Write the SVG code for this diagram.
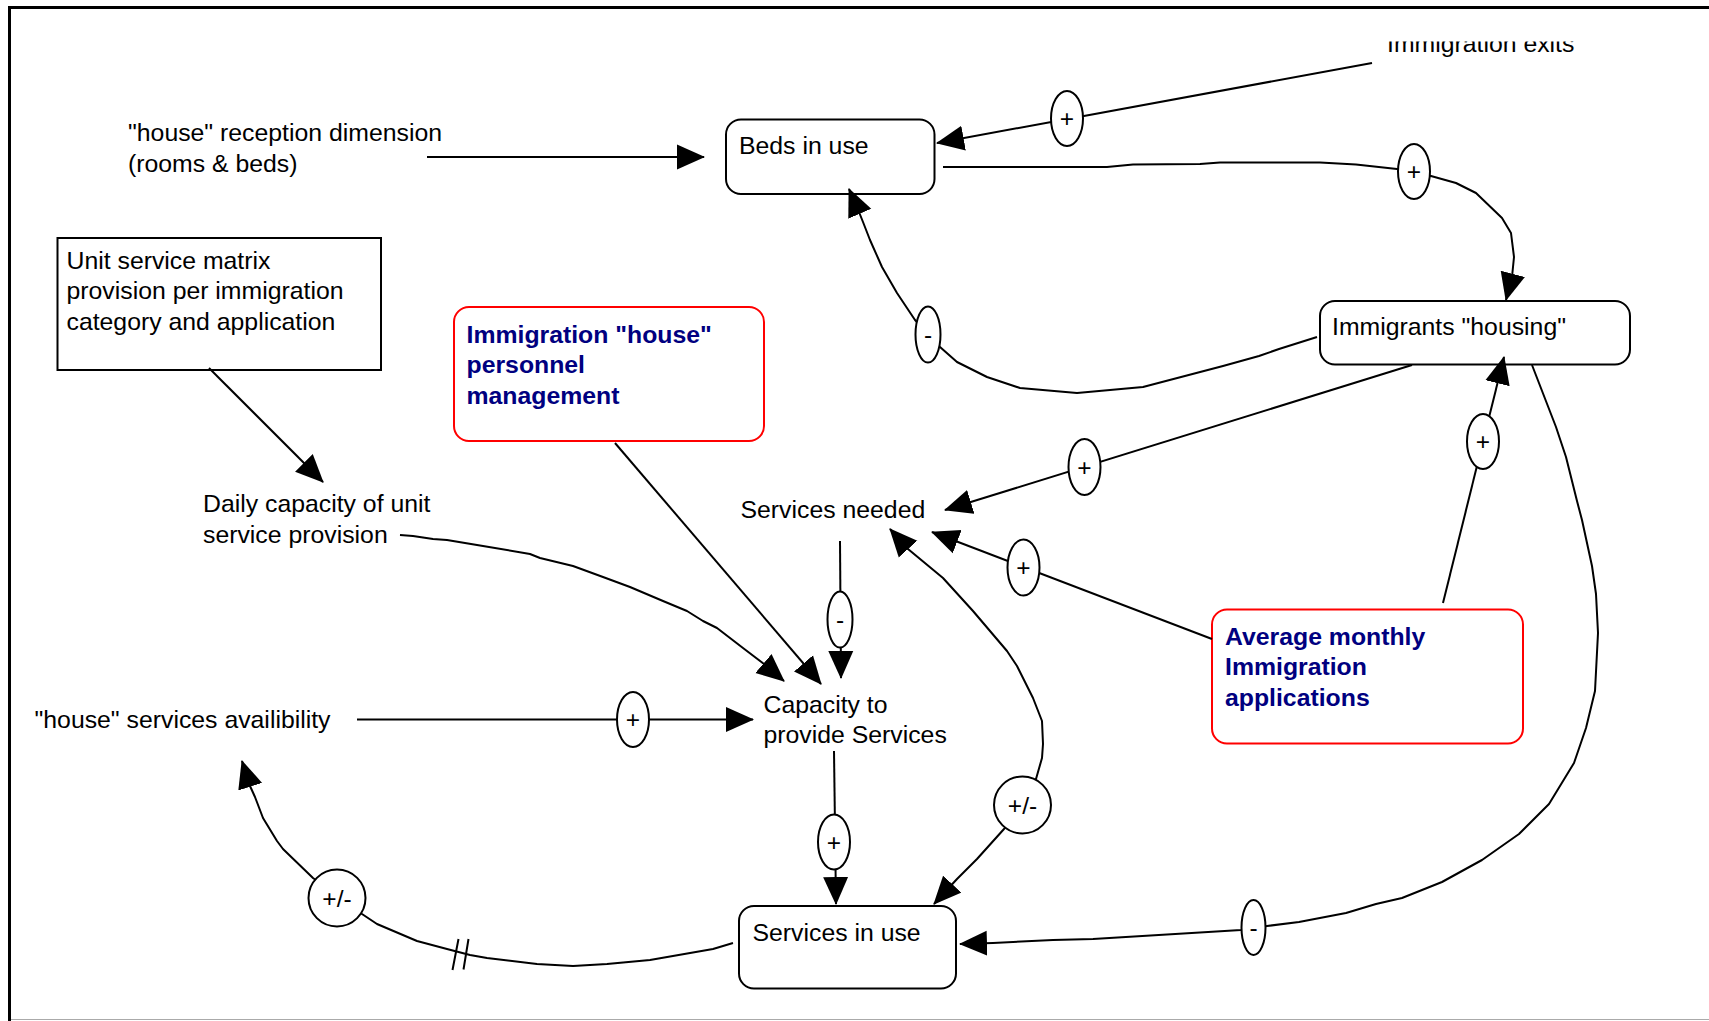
<svg xmlns="http://www.w3.org/2000/svg" width="1709" height="1021" viewBox="0 0 1709 1021">
  <style>
    text { font-family: "Liberation Sans", Arial, sans-serif; font-size: 24.8px; fill: #000; }
    .bold { font-weight: bold; fill: #000080; }
    .box { fill: #fff; stroke: #000; stroke-width: 2; }
    .redbox { fill: #fff; stroke: #ff0000; stroke-width: 2; }
    .link { fill: none; stroke: #000; stroke-width: 2; stroke-linejoin: round; }
    .arrow { marker-end: url(#head); }
    .sign { fill: #fff; stroke: #000; stroke-width: 2; }
    .lbl { text-anchor: middle; font-size: 24.5px; }
  </style>
  <defs>
    <marker id="head" markerUnits="userSpaceOnUse" markerWidth="28" markerHeight="26" refX="27" refY="13" orient="auto-start-reverse">
      <path d="M0,0.5 L28,13 L0,25.5 Z" fill="#000"/>
    </marker>
    <clipPath id="topclip">
      <rect x="0" y="41.5" width="1709" height="40"/>
    </clipPath>
  </defs>

  <rect x="0" y="0" width="1709" height="1021" fill="#fff"/>

  <!-- page frame -->
  <g id="frame">
    <path d="M9.5,1021 L9.5,7.5 L1709,7.5" fill="none" stroke="#000" stroke-width="3"/>
    <line x1="11" y1="1019.5" x2="1709" y2="1019.5" stroke="#aaa" stroke-width="1"/>
  </g>

  <!-- variables -->
  <g id="node-reception">
    <text x="128" y="141">"house" reception dimension</text>
    <text x="128" y="172">(rooms &amp; beds)</text>
  </g>

  <g id="node-beds">
    <rect class="box" x="726" y="119.5" width="208.5" height="74.5" rx="15"/>
    <text x="739" y="154">Beds in use</text>
  </g>

  <g id="node-exits" clip-path="url(#topclip)">
    <text x="1387" y="51.5">Immigration exits</text>
  </g>

  <g id="node-housing">
    <rect class="box" x="1320" y="301" width="310" height="63.5" rx="15"/>
    <text x="1332" y="335">Immigrants "housing"</text>
  </g>

  <g id="node-matrix">
    <rect class="box" x="57.5" y="238" width="323.5" height="132"/>
    <text x="66.5" y="268.5">Unit service matrix</text>
    <text x="66.5" y="299">provision per immigration</text>
    <text x="66.5" y="329.5">category and application</text>
  </g>

  <g id="node-personnel">
    <rect class="redbox" x="454" y="307" width="310" height="134" rx="15"/>
    <text class="bold" x="466.5" y="342.5">Immigration "house"</text>
    <text class="bold" x="466.5" y="373">personnel</text>
    <text class="bold" x="466.5" y="403.5">management</text>
  </g>

  <g id="node-daily">
    <text x="203" y="512">Daily capacity of unit</text>
    <text x="203" y="543">service provision</text>
  </g>

  <g id="node-needed">
    <text x="740.5" y="517.5">Services needed</text>
  </g>

  <g id="node-average">
    <rect class="redbox" x="1212" y="609.5" width="311" height="134" rx="15"/>
    <text class="bold" x="1225" y="644.5">Average monthly</text>
    <text class="bold" x="1225" y="675">Immigration</text>
    <text class="bold" x="1225" y="705.5">applications</text>
  </g>

  <g id="node-availability">
    <text x="34.5" y="728">"house" services availibility</text>
  </g>

  <g id="node-capacity">
    <text x="763.5" y="713">Capacity to</text>
    <text x="763.5" y="743">provide Services</text>
  </g>

  <g id="node-inuse">
    <rect class="box" x="739" y="906" width="217" height="82.5" rx="15"/>
    <text x="752.5" y="940.5">Services in use</text>
  </g>

  <!-- causal links with polarity signs -->
  <g id="connectors">
    <path class="link arrow" d="M427,157 L704,157"/>

    <path class="link arrow" d="M1372,63 L937,143"/>
    <ellipse class="sign" cx="1067" cy="118.5" rx="16" ry="27.5"/>
    <text class="lbl" x="1067" y="127">+</text>

    <path class="link arrow" d="M943,167 L1107,167 L1133,164.5 L1200,164 L1220,162.5 L1320,162.5 L1356,164.5 L1397,169 L1431,176 L1456,183 L1476,193 L1502,218 L1511,233 L1514,257 L1512,277 L1506,300"/>
    <ellipse class="sign" cx="1414" cy="171.5" rx="16" ry="27.5"/>
    <text class="lbl" x="1414" y="180">+</text>

    <path class="link arrow" d="M1317,337 L1279,349 L1259,356 L1223,366 L1143,387 L1077,393 L1020,388 L987,377 L957,362 L940,347 L928,334 L915,320 L897,293 L882,267 L870,240 L863,222 L859,212 L849,189"/>
    <ellipse class="sign" cx="928" cy="334.5" rx="12.5" ry="28"/>
    <text class="lbl" x="928" y="343">-</text>

    <path class="link arrow" d="M1412,365 L945,510"/>
    <ellipse class="sign" cx="1084.5" cy="467" rx="16" ry="28"/>
    <text class="lbl" x="1084.5" y="475.5">+</text>

    <path class="link arrow" d="M209,368 L323,482"/>

    <path class="link arrow" d="M400,535 L413,536 L433,539 L447,540 L483,546 L530,554 L540,558 L573,566 L603,577 L630,587 L663,601 L687,611 L703,621 L717,628 L743,648 L764,664 L784,681"/>

    <path class="link arrow" d="M615,443 L821,684"/>

    <path class="link arrow" d="M840,541 L841,678"/>
    <ellipse class="sign" cx="840" cy="619.5" rx="12.5" ry="28"/>
    <text class="lbl" x="840" y="628">-</text>

    <path class="link arrow" d="M357,719.5 L753,719.5"/>
    <ellipse class="sign" cx="633" cy="719.5" rx="16" ry="27.5"/>
    <text class="lbl" x="633" y="728">+</text>

    <path class="link arrow" d="M834,751 L836,904"/>
    <ellipse class="sign" cx="834" cy="842" rx="16" ry="27.5"/>
    <text class="lbl" x="834" y="850.5">+</text>

    <path class="link arrow" d="M733,943 L713,949 L650,960 L607,964 L573,966 L537,964 L487,958 L470,955 L447,949 L417,941 L377,924 L362,914 L313,878 L283,849 L277,841 L263,818 L255,797 L250,786 L242,761"/>
    <path class="link" d="M458.5,939 L452.5,970 M468.5,939 L463.5,969.5"/>
    <circle class="sign" cx="337" cy="898" r="28.5"/>
    <text class="lbl" x="337" y="906.5">+/-</text>

    <path class="link arrow" style="marker-start:url(#head)" d="M934,904 L957,879 L977,859 L1004,829 L1023,805 L1036,779 L1042,758 L1043,744 L1042,721 L1033,698 L1017,666 L1007,651 L973,611 L943,578 L908,549 L890,529"/>
    <circle class="sign" cx="1022.5" cy="805" r="28.5"/>
    <text class="lbl" x="1022.5" y="813.5">+/-</text>

    <path class="link arrow" d="M1212,639 L932,532"/>
    <ellipse class="sign" cx="1023.5" cy="567.5" rx="16" ry="28"/>
    <text class="lbl" x="1023.5" y="576">+</text>

    <path class="link arrow" d="M1443,603 L1504,357"/>
    <ellipse class="sign" cx="1483" cy="441.5" rx="16" ry="27.5"/>
    <text class="lbl" x="1483" y="450">+</text>

    <path class="link arrow" d="M1532,365 L1556,427 L1566,457 L1577,501 L1582,520 L1592,566 L1596,594 L1598,633 L1595,691 L1586,728 L1574,763 L1549,804 L1519,834 L1482,860 L1442,882 L1402,898 L1376,904 L1346,913 L1299,922 L1267,926 L1241,930 L1093,939 L1053,940 L993,943 L960,944"/>
    <ellipse class="sign" cx="1253.5" cy="927.5" rx="12" ry="27.5"/>
    <text class="lbl" x="1253.5" y="936">-</text>
  </g>
</svg>
